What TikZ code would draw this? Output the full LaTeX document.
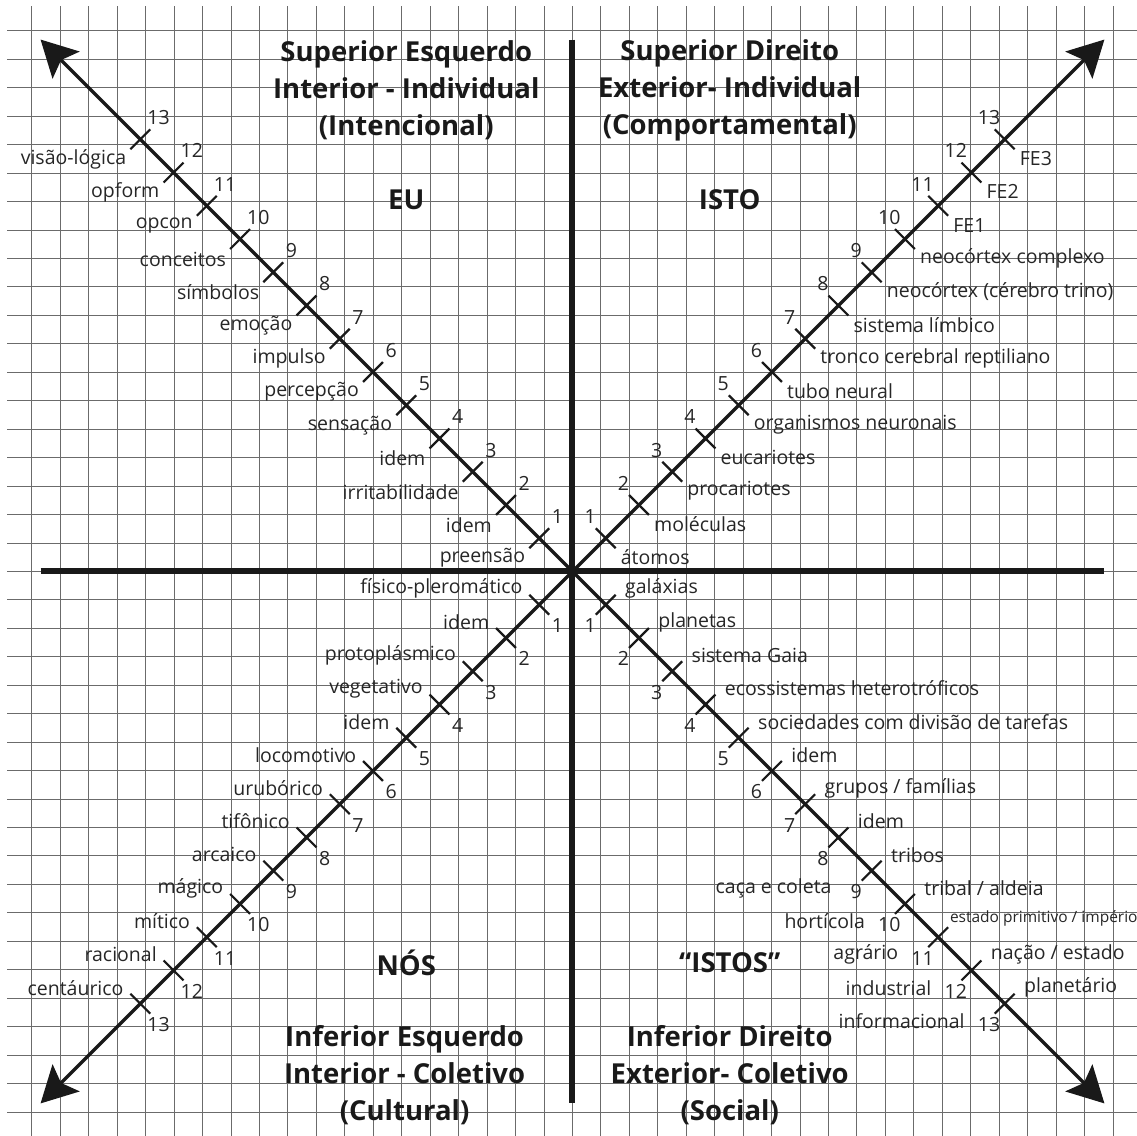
\documentclass[tikz,border=0pt]{standalone}
\usepackage{fontspec}
\setmainfont{Open Sans}
\usetikzlibrary{arrows.meta}

\begin{document}
\begin{tikzpicture}[x=33.25pt, y=33.25pt,
    gridline/.style={draw=black!58, line width=1pt},
    axis/.style={draw=black!90, line width=6pt},
    diag/.style={draw=black!90, line width=3.5pt,
      {Stealth[length=36pt,width=38pt,inset=7pt]}-{Stealth[length=36pt,width=38pt,inset=7pt]}},
    tickmark/.style={draw=black!90, line width=2.2pt},
    num/.style={font=\fontsize{19.5}{21}\selectfont, text=black!85, inner sep=0pt},
    lbl/.style={font=\fontsize{19.5}{21}\selectfont, text=black!85, inner sep=0pt},
    small/.style={font=\fontsize{15.5}{17}\selectfont, text=black!85, inner sep=0pt},
    head/.style={font=\bfseries\fontsize{27.5}{37}\selectfont, align=center, text=black!90, inner sep=0pt}]
    \useasboundingbox (-17.22,-16.95) rectangle (16.98,17.19);
    \clip (-17.22,-16.95) rectangle (16.98,17.19);

    % grid paper
    \draw[gridline] (-17,-18) grid (18,17);

    % axes and diagonals
    \coordinate (O) at (0,0);
    \coordinate (N) at (0,16);
    \coordinate (S) at (0,-16);
    \coordinate (W) at (-16,0);
    \coordinate (E) at (16,0);
    \coordinate (NW) at (-16,16);
    \coordinate (NE) at (16,16);
    \coordinate (SW) at (-16,-16);
    \coordinate (SE) at (16,-16);
    \draw[axis] (N) -- (S);
    \draw[axis] (W) -- (E);
    \draw[diag] (SE) -- (NW);
    \draw[diag] (SW) -- (NE);

    % ticks and numbers
    \foreach \k in {1,...,13} {
        \coordinate (ul\k) at (-\k,\k);
        \coordinate (ur\k) at (\k,\k);
        \coordinate (ll\k) at (-\k,-\k);
        \coordinate (lr\k) at (\k,-\k);
        \draw[tickmark] (ul\k) ++(-0.3,-0.3) -- ++(0.6,0.6);
        \draw[tickmark] (ur\k) ++(-0.3,0.3) -- ++(0.6,-0.6);
        \draw[tickmark] (ll\k) ++(-0.3,0.3) -- ++(0.6,-0.6);
        \draw[tickmark] (lr\k) ++(-0.3,-0.3) -- ++(0.6,0.6);
        \node[num] (uln\k) at (-\k+0.55,\k+0.65) {\k};
        \node[num] (urn\k) at (\k-0.47,\k+0.65) {\k};
        \node[num] (lln\k) at (-\k+0.55,-\k-0.63) {\k};
        \node[num] (lrn\k) at (\k-0.47,-\k-0.63) {\k};
    }

    % upper left: interior individual
    \foreach \k/\txt in {1/preensão, 2/idem, 3/irritabilidade, 4/idem, 5/sensação,
        6/percepção, 7/impulso, 8/emoção, 9/símbolos, 10/conceitos, 11/opcon,
        12/opform, 13/visão-lógica}
        \node[lbl, anchor=east] (ult\k) at (-\k-0.42,\k-0.6) {\txt};

    % upper right: exterior individual
    \foreach \k/\txt in {1/átomos, 2/moléculas, 3/procariotes, 4/eucariotes,
        5/organismos neuronais, 6/tubo neural, 7/tronco cerebral reptiliano,
        8/sistema límbico, 9/{neocórtex (cérebro trino)}, 10/neocórtex complexo,
        11/FE1, 12/FE2, 13/FE3}
        \node[lbl, anchor=west] (urt\k) at (\k+0.45,\k-0.58) {\txt};

    % lower left: interior collective
    \foreach \k/\txt in {1/físico-pleromático, 2/idem, 3/protoplásmico, 4/vegetativo,
        5/idem, 6/locomotivo, 7/urubórico, 8/tifônico, 9/arcaico, 10/mágico,
        11/mítico, 12/racional, 13/centáurico}
        \node[lbl, anchor=east] (llt\k) at (-\k-0.5,-\k+0.48) {\txt};

    % lower right: exterior collective
    \foreach \k/\txt in {1/galáxias, 2/planetas, 3/sistema Gaia,
        4/ecossistemas heterotróficos, 5/sociedades com divisão de tarefas, 6/idem,
        7/{grupos / famílias}, 8/idem, 9/tribos, 10/{tribal / aldeia},
        12/{nação / estado}, 13/planetário}
        \node[lbl, anchor=west] (lrt\k) at (\k+0.58,-\k+0.48) {\txt};
    \node[small, anchor=west] (lrt11) at (11+0.35,-11+0.57) {estado primitivo / império};
    \foreach \k/\txt in {9/caça e coleta, 10/hortícola, 11/agrário, 12/industrial,
        13/informacional}
        \node[lbl, anchor=east] (lrs\k) at (\k-1.2,-\k-0.52) {\txt};

    % quadrant titles
    \node[head] (ulhead) at (-5.0,14.48) {Superior Esquerdo\\Interior - Individual\\(Intencional)};
    \node[head] (urhead) at (4.73,14.48) {Superior Direito\\Exterior- Individual\\(Comportamental)};
    \node[head] (llhead) at (-5.05,-15.15) {Inferior Esquerdo\\Interior - Coletivo\\(Cultural)};
    \node[head] (lrhead) at (4.73,-15.15) {Inferior Direito\\Exterior- Coletivo\\(Social)};
    \node[head] (eu) at (-5.0,11.17) {EU};
    \node[head] (isto) at (4.73,11.17) {ISTO};
    \node[head] (nos) at (-5.0,-11.77) {NÓS};
    \node[head] (istos) at (4.73,-11.77) {“ISTOS”};
\end{tikzpicture}
\end{document}
